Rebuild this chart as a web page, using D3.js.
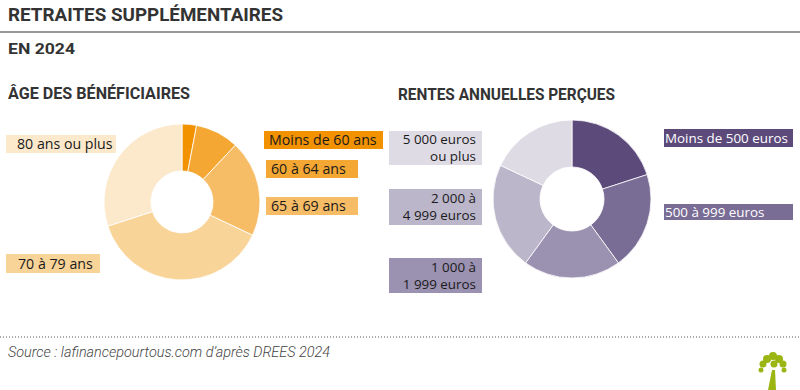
<!DOCTYPE html>
<html>
<head>
<meta charset="utf-8">
<script src="https://cdn.jsdelivr.net/npm/d3@7"></script>
<style>
  html, body { margin: 0; padding: 0; background: #fff; }
  svg { display: block; }
</style>
</head>
<body>
<svg id="chart" width="800" height="390"></svg>
<script>
// ---- data (share in %) ----
const ageCategories = ['Moins de 60 ans', '60 à 64 ans', '65 à 69 ans', '70 à 79 ans', '80 ans ou plus'];
const ageValues = [3, 9, 20, 38, 30];
const ageColors = ['#f39200', '#f4a733', '#f6bc66', '#f9d499', '#fce9cc'];

const renteCategories = ['Moins de 500 euros', '500 à 999 euros', '1 000 à 1 999 euros', '2 000 à 4 999 euros', '5 000 euros ou plus'];
const renteValues = [20, 20, 20, 22, 18];
const renteColors = ['#5c4a7b', '#796c95', '#9b91b1', '#bbb6ca', '#dedbe5'];

// label boxes: lines of text, box rect, text anchor
const ageLabels = [
    { lines: ['Moins de 60 ans'], box: [264, 131, 119, 18], anchor: 'start', tx: 269, fg: '#1a1a1a' },
    { lines: ['60 à 64 ans'], box: [266, 160, 92, 18], anchor: 'start', tx: 271, fg: '#1a1a1a' },
    { lines: ['65 à 69 ans'], box: [266, 197, 92, 18], anchor: 'start', tx: 271, fg: '#1a1a1a' },
    { lines: ['70 à 79 ans'], box: [6, 254, 94, 19], anchor: 'start', tx: 18, fg: '#1a1a1a' },
    { lines: ['80 ans ou plus'], box: [6, 135, 110, 18], anchor: 'start', tx: 17, fg: '#1a1a1a' },
];
const renteLabels = [
    { lines: ['Moins de 500 euros'], box: [664, 129, 129, 18], anchor: 'start', tx: 665, fg: '#ffffff' },
    { lines: ['500 à 999 euros'], box: [664, 204, 129, 16], anchor: 'start', tx: 665, fg: '#ffffff' },
    { lines: ['1 000 à', '1 999 euros'], box: [389, 258, 93, 35], anchor: 'end', tx: 476, fg: '#1a1a1a' },
    { lines: ['2 000 à', '4 999 euros'], box: [389, 189, 93, 36], anchor: 'end', tx: 476, fg: '#1a1a1a' },
    { lines: ['5 000 euros', 'ou plus'], box: [389, 131, 93, 34], anchor: 'end', tx: 476, fg: '#1a1a1a' },
];

const HEAD_FONT = 'Roboto, "DejaVu Sans", sans-serif';
const BODY_FONT = '"Open Sans", "Noto Sans", sans-serif';

const svg = d3.select('#chart');

// ---- header ----
svg.append('text')
    .attr('x', 8).attr('y', 21)
    .attr('font-family', HEAD_FONT).attr('font-weight', 700).attr('font-size', 19)
    .attr('fill', '#333').attr('textLength', 275).attr('lengthAdjust', 'spacingAndGlyphs')
    .text('RETRAITES SUPPLÉMENTAIRES');

svg.append('line')
    .attr('x1', 0).attr('x2', 800).attr('y1', 32).attr('y2', 32)
    .attr('stroke', '#333').attr('stroke-width', 1.2);

svg.append('text')
    .attr('x', 8).attr('y', 54)
    .attr('font-family', HEAD_FONT).attr('font-weight', 700).attr('font-size', 15)
    .attr('fill', '#333').attr('textLength', 67).attr('lengthAdjust', 'spacingAndGlyphs')
    .text('EN 2024');

svg.append('text')
    .attr('x', 8).attr('y', 99)
    .attr('font-family', HEAD_FONT).attr('font-weight', 700).attr('font-size', 16.5)
    .attr('fill', '#333').attr('textLength', 182).attr('lengthAdjust', 'spacingAndGlyphs')
    .text('ÂGE DES BÉNÉFICIAIRES');

svg.append('text')
    .attr('x', 398).attr('y', 100)
    .attr('font-family', HEAD_FONT).attr('font-weight', 700).attr('font-size', 16.5)
    .attr('fill', '#333').attr('textLength', 217).attr('lengthAdjust', 'spacingAndGlyphs')
    .text('RENTES ANNUELLES PERÇUES');

// ---- donuts ----
function drawDonut(cx, cy, outer, inner, cats, vals, colors) {
    const pie = d3.pie().value((d) => d.value).sort(null);
    const arc = d3.arc().innerRadius(inner).outerRadius(outer);
    const data = cats.map((c, i) => ({ cat: c, value: vals[i], color: colors[i] }));
    const g = svg.append('g').attr('transform', `translate(${cx}, ${cy})`);
    g.selectAll('path')
        .data(pie(data))
        .enter()
        .append('path')
        .attr('d', arc)
        .attr('fill', (d) => d.data.color)
        .attr('stroke', '#fff')
        .attr('stroke-width', 0.8);
}

drawDonut(182, 202, 78, 31, ageCategories, ageValues, ageColors);
drawDonut(572, 199, 79, 32, renteCategories, renteValues, renteColors);

// ---- labels ----
function drawLabels(labels, colors, fontSize, lineH) {
    labels.forEach((l, i) => {
        const [x, y, w, h] = l.box;
        svg.append('rect')
            .attr('x', x).attr('y', y).attr('width', w).attr('height', h)
            .attr('fill', colors[i]);
        const n = l.lines.length;
        const firstBase = y + h / 2 + fontSize * 0.36 - (n - 1) * lineH / 2;
        // one text per line
        l.lines.forEach((s, j) => {
            const t = svg.append('text')
                .attr('x', l.tx).attr('y', firstBase + j * lineH)
                .attr('font-family', BODY_FONT).attr('font-size', fontSize)
                .attr('fill', l.fg).attr('text-anchor', l.anchor)
                .text(s);
            // keep the text inside its box
            const maxW = w - 3;
            if (t.node().getComputedTextLength() > maxW) {
                t.attr('textLength', maxW).attr('lengthAdjust', 'spacingAndGlyphs');
            }
        });
    });
}
drawLabels(ageLabels, ageColors, 14.2, 15);
drawLabels(renteLabels, renteColors, 13.4, 17);

// ---- footer ----
svg.append('line')
    .attr('x1', 0).attr('x2', 800).attr('y1', 337).attr('y2', 337)
    .attr('stroke', '#555').attr('stroke-width', 1).attr('stroke-dasharray', '1,2');

svg.append('text')
    .attr('x', 8).attr('y', 357)
    .attr('font-family', HEAD_FONT).attr('font-style', 'italic').attr('font-weight', 300).attr('font-size', 14)
    .attr('fill', '#444').attr('textLength', 322).attr('lengthAdjust', 'spacingAndGlyphs')
    .text('Source : lafinancepourtous.com d’après DREES 2024');

// small tree logo
const logo = svg.append('g').attr('transform', 'translate(773, 372)').attr('fill', '#9bb512');
logo.append('path').attr('d', 'M-5,18 L-1,-2 L2,-2 L3,18 Z');
[[-10, -8, 3.5], [-6, -13, 4], [0, -16, 4], [6, -13, 4], [10, -8, 3.5], [-12, -2, 2.5], [11, -2, 2.5], [1, -8, 3.5]]
    .forEach(([x, y, r]) => logo.append('circle').attr('cx', x).attr('cy', y).attr('r', r));
</script>
</body>
</html>
